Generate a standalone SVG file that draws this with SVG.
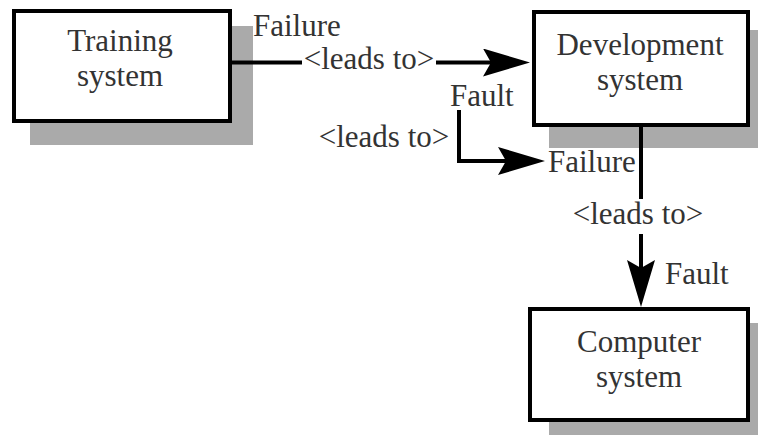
<svg xmlns="http://www.w3.org/2000/svg" width="758" height="436" viewBox="0 0 758 436">
  <style>
    .shadow { fill: #aaaaaa; }
    .box { fill: #ffffff; stroke: #000000; stroke-width: 4; }
    text { font-family: 'Liberation Serif', 'DejaVu Serif', 'Times New Roman', serif; font-size: 31px; fill: #333333; }
    .mid { text-anchor: middle; }
    .wire { fill: none; stroke: #000000; stroke-width: 4; }
  </style>
  <defs>
    <marker id="head" markerUnits="userSpaceOnUse" viewBox="0 0 47 28" markerWidth="47" markerHeight="28" refX="27" refY="14" orient="auto">
      <path d="M0,0 L47,14 L0,28 L8,14 Z" fill="#000000"/>
    </marker>
  </defs>

  <!-- Training system -->
  <g id="training">
    <rect class="shadow" x="30" y="26" width="223" height="119"/>
    <rect class="box" x="14" y="11" width="216" height="110"/>
    <text class="mid" x="120" y="51">Training</text>
    <text class="mid" x="120" y="86">system</text>
  </g>

  <!-- Development system -->
  <g id="development">
    <rect class="shadow" x="549" y="30" width="209" height="118"/>
    <rect class="box" x="534" y="12" width="214" height="113"/>
    <text class="mid" x="640" y="55">Development</text>
    <text class="mid" x="640" y="90">system</text>
  </g>

  <!-- Computer system -->
  <g id="computer">
    <rect class="shadow" x="549" y="323" width="209" height="112"/>
    <rect class="box" x="530" y="309" width="218" height="111"/>
    <text class="mid" x="639" y="352">Computer</text>
    <text class="mid" x="639" y="387">system</text>
  </g>

  <!-- Fault/failure chains -->
  <g id="connectors">
    <path class="wire" d="M232,62.5 H302 M436,62.5 H510" marker-end="url(#head)"/>
    <path class="wire" d="M459,110 V161 H525" marker-end="url(#head)"/>
    <path class="wire" d="M641,127 V199 M641,234 V287" marker-end="url(#head)"/>

    <text x="253" y="36">Failure</text>
    <text class="mid" x="369" y="69">&lt;leads to&gt;</text>
    <text x="450" y="106">Fault</text>
    <text class="mid" x="384" y="147">&lt;leads to&gt;</text>
    <text x="548" y="172">Failure</text>
    <text class="mid" x="638" y="224">&lt;leads to&gt;</text>
    <text x="665" y="284">Fault</text>
  </g>
</svg>
